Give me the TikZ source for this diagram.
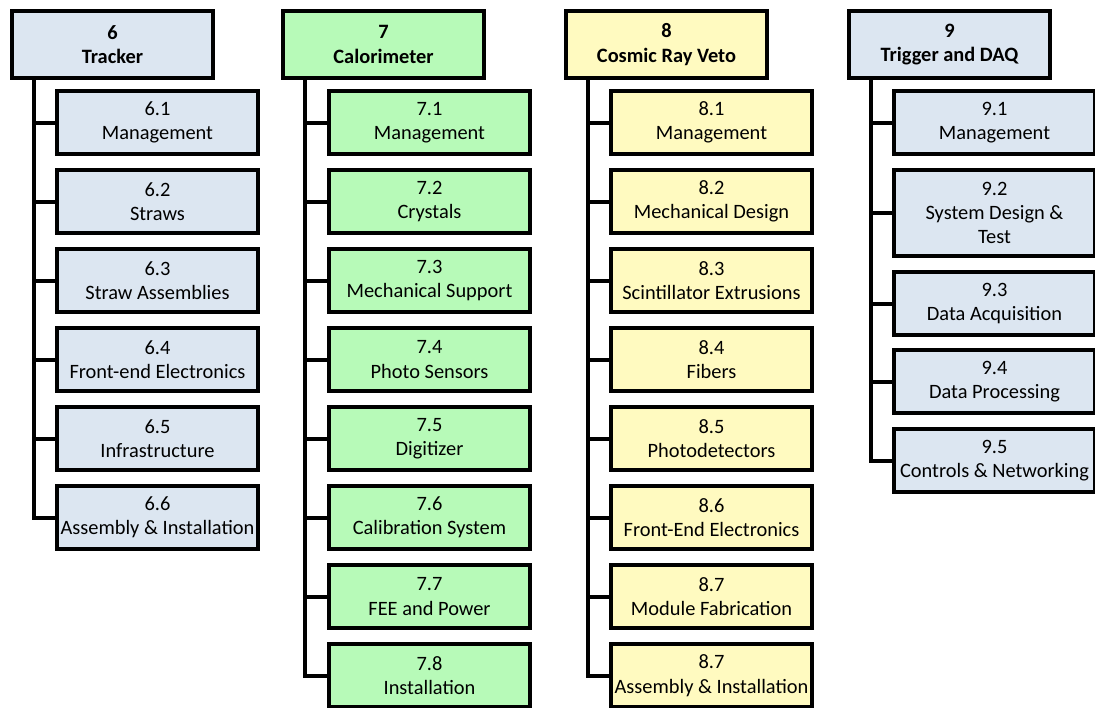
\documentclass[tikz,border=0pt]{standalone}
\usepackage{fontspec}
\setmainfont{Carlito}
\usetikzlibrary{positioning}
\definecolor{trkfill}{RGB}{220,230,241}
\definecolor{calfill}{RGB}{183,250,184}
\definecolor{crvfill}{RGB}{255,250,192}
\tikzset{
wbs/.style={draw=black, line width=2pt, align=center, inner sep=1pt,
            minimum width=100.5pt, font=\fontsize{10.2}{12.2}\selectfont},
head/.style={wbs, minimum height=33.5pt,
             font=\fontsize{10.2}{12.2}\selectfont\bfseries},
sub/.style={wbs, minimum height=31.5pt},
link/.style={line width=2pt}}

\begin{document}
\begin{tikzpicture}[x=0.5pt,y=-0.5pt]
  \useasboundingbox (0,0) rectangle (1095,707);
  % level 1
  \node[head, fill=trkfill, anchor=north west] (h6) at (10,9) {6\\Tracker};
  \node[head, fill=calfill, anchor=north west] (h7) at (281,9) {7\\Calorimeter};
  \node[head, fill=crvfill, anchor=north west] (h8) at (564,9) {8\\Cosmic Ray Veto};
  \node[head, fill=trkfill, anchor=north west] (h9) at (847,9) {9\\Trigger and DAQ};

  % level 2
  \foreach \num/\txt [count=\k] in {6.1/Management, 6.2/Straws, 6.3/Straw Assemblies,
      6.4/Front-end Electronics, 6.5/Infrastructure, 6.6/Assembly \& Installation}{
    \node[sub, fill=trkfill, anchor=north west] (c6-\k) at (55,{89+79*(\k-1)}) {\num\\\txt};
    \draw[link] ([xshift=12pt]h6.south west) |- (c6-\k.west);
  }
  \foreach \num/\txt [count=\k] in {7.1/Management, 7.2/Crystals, 7.3/Mechanical Support,
      7.4/Photo Sensors, 7.5/Digitizer, 7.6/Calibration System, 7.7/FEE and Power,
      7.8/Installation}{
    \node[sub, fill=calfill, anchor=north west] (c7-\k) at (327,{89+79*(\k-1)}) {\num\\\txt};
    \draw[link] ([xshift=12pt]h7.south west) |- (c7-\k.west);
  }
  \foreach \num/\txt [count=\k] in {8.1/Management, 8.2/Mechanical Design,
      8.3/Scintillator Extrusions, 8.4/Fibers, 8.5/Photodetectors,
      8.6/Front-End Electronics, 8.7/Module Fabrication, 8.7/Assembly \& Installation}{
    \node[sub, fill=crvfill, anchor=north west] (c8-\k) at (609,{89+79*(\k-1)}) {\num\\\txt};
    \draw[link] ([xshift=12pt]h8.south west) |- (c8-\k.west);
  }
  \foreach \num/\txt/\ypos/\boxh [count=\k] in {9.1/Management/89/31.5pt,
      9.2/{System Design \&\\Test}/168/43pt, 9.3/Data Acquisition/270/31.5pt,
      9.4/Data Processing/348/31.5pt, 9.5/Controls \& Networking/427/31.5pt}{
    \node[sub, fill=trkfill, anchor=north west, minimum height=\boxh] (c9-\k) at (892,\ypos) {\num\\\txt};
    \draw[link] ([xshift=12pt]h9.south west) |- (c9-\k.west);
  }
\end{tikzpicture}
\end{document}
